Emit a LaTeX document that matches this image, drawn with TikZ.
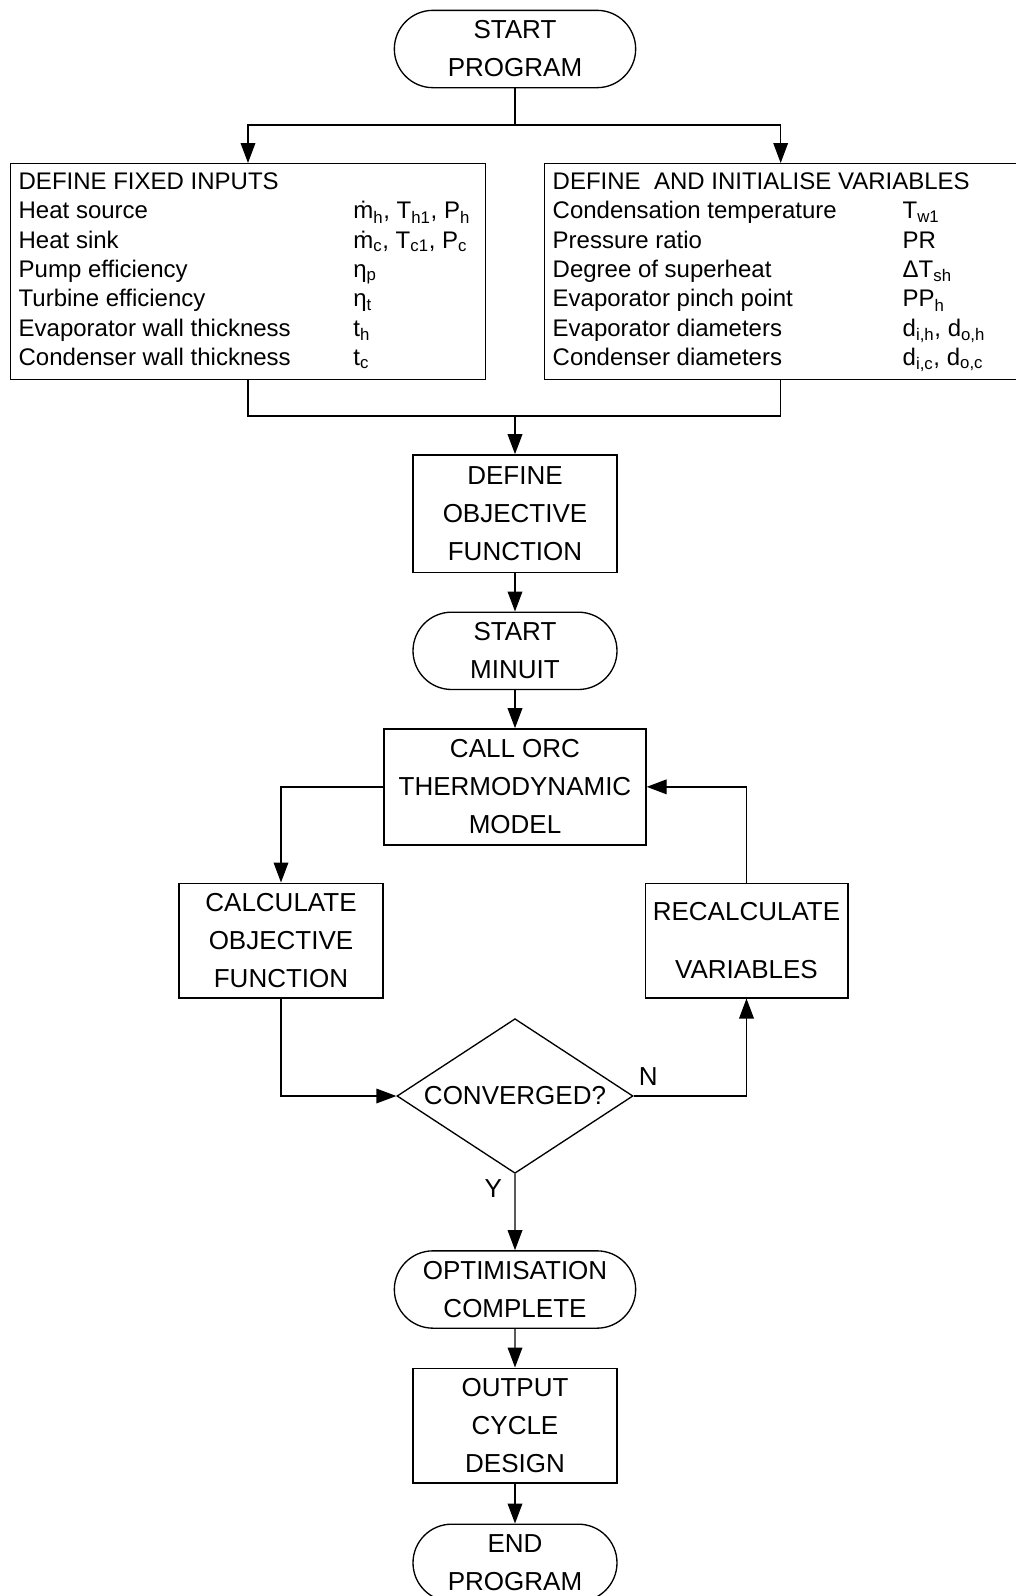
\documentclass[tikz,border=0pt]{standalone}
\usepackage{fontspec}
\setmainfont{Liberation Sans}
\usepackage{tikz}
\usetikzlibrary{arrows.meta,positioning,shapes.misc,shapes.geometric}

\begin{document}
\begin{tikzpicture}[x=0.75pt,y=-0.75pt,line width=1pt,
	term/.style={rounded rectangle,draw,align=center,inner sep=0pt,minimum width=181pt,minimum height=58pt,font=\fontsize{19.5}{28.5}\selectfont},
	proc/.style={rectangle,draw,align=center,inner sep=0pt,font=\fontsize{19.5}{28.5}\selectfont},
	inbox/.style={rectangle,draw,anchor=north west,inner xsep=6pt,inner ysep=0pt,minimum height=162pt,font=\fontsize{18}{22}\selectfont},
	dec/.style={diamond,draw,aspect=1.5,inner sep=0pt,minimum width=177pt,minimum height=116pt,font=\fontsize{19.5}{28.5}\selectfont}]
	\useasboundingbox (0,0) rectangle (1016,1596);
	
	\node[term] (start) at (515,49) {START\\PROGRAM};
	
	\node[inbox] (fixed) at (10,163) {\begin{tabular}{@{}p{251pt}@{}p{93pt}@{}}
		\multicolumn{2}{@{}l@{}}{DEFINE FIXED INPUTS}\\
		Heat source & ṁ\textsubscript{h}, T\textsubscript{h1}, P\textsubscript{h}\\
		Heat sink & ṁ\textsubscript{c}, T\textsubscript{c1}, P\textsubscript{c}\\
		Pump efficiency & η\textsubscript{p}\\
		Turbine efficiency & η\textsubscript{t}\\
		Evaporator wall thickness & t\textsubscript{h}\\
		Condenser wall thickness & t\textsubscript{c}
	\end{tabular}};
	\node[inbox] (vars) at (544,163) {\begin{tabular}{@{}p{262.5pt}@{}p{79.5pt}@{}}
		\multicolumn{2}{@{}l@{}}{DEFINE \ AND INITIALISE VARIABLES}\\
		Condensation temperature & T\textsubscript{w1}\\
		Pressure ratio & PR\\
		Degree of superheat & ΔT\textsubscript{sh}\\
		Evaporator pinch point & PP\textsubscript{h}\\
		Evaporator diameters & d\textsubscript{i,h}, d\textsubscript{o,h}\\
		Condenser diameters & d\textsubscript{i,c}, d\textsubscript{o,c}
	\end{tabular}};
	
	\coordinate (split) at (515,125);
	\coordinate (merge) at (515,416);
	
	\node[proc,minimum width=153pt,minimum height=88pt] (objfun) at (515,513.5) {DEFINE\\OBJECTIVE\\FUNCTION};
	\node[term,minimum width=153pt,below =29pt of objfun] (minuit) {START\\MINUIT};
	\node[proc,minimum width=196.5pt,minimum height=87pt,below =28.5pt of minuit] (callorc) {CALL ORC\\THERMODYNAMIC\\MODEL};
	\node[proc,minimum width=153pt,minimum height=86pt] (calc) at (281,940.5) {CALCULATE\\OBJECTIVE\\FUNCTION};
	\node[proc,minimum width=152pt,minimum height=86pt] (recalc) at (746.5,940.5) {RECALCULATE\\[15pt]VARIABLES};
	\node[dec] (conv) at (515,1096) {CONVERGED?};
	\node[term] (optim) at (515,1289.5) {OPTIMISATION\\COMPLETE};
	\node[proc,minimum width=153pt,minimum height=86pt,below =29pt of optim] (output) {OUTPUT\\CYCLE\\DESIGN};
	\node[term,minimum width=153pt,below =30pt of output] (endp) {END\\PROGRAM};
	
	\begin{scope}[-{Triangle[length=15pt,width=11pt]},every node/.style={font=\fontsize{19.5}{24}\selectfont}]
		\draw[-] (start) -- (split);
		\draw (split) -| (fixed.north);
		\draw (split) -| (vars.north);
		\draw[-] (fixed.south) |- (merge);
		\draw[-] (vars.south) |- (merge);
		\draw (merge) -- (objfun);
		\draw (objfun) -- (minuit);
		\draw (minuit) -- (callorc);
		\draw (callorc) -| (calc);
		\draw (calc) |- (conv);
		\draw (conv.east) node[above right,yshift=4pt] {N} -| (recalc);
		\draw (recalc) |- (callorc);
		\draw (conv.south) node[below left,xshift=-6pt] {Y} -- (optim);
		\draw (optim) -- (output);
		\draw (output) -- (endp);
	\end{scope}
\end{tikzpicture}
\end{document}
